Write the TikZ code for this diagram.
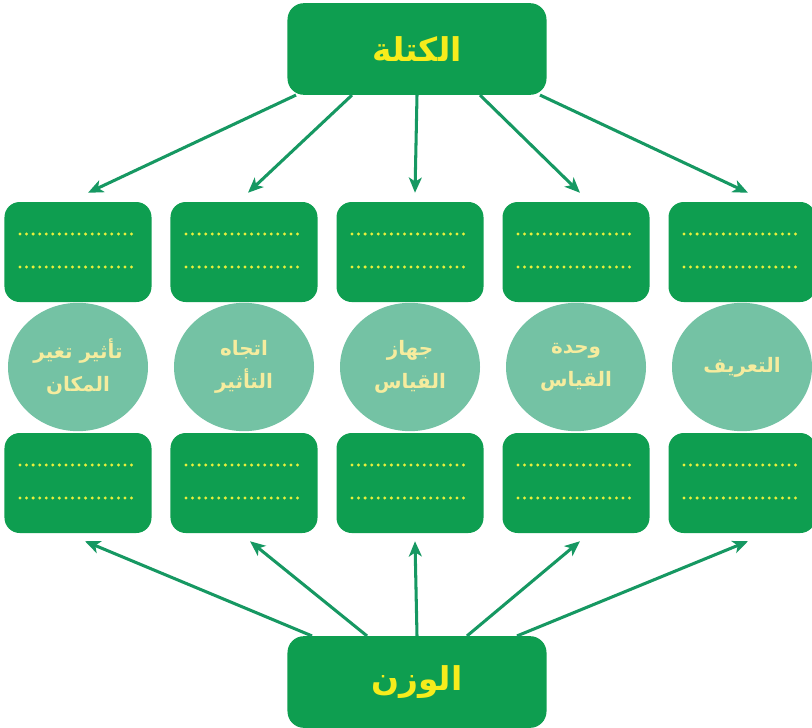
\documentclass[tikz,border=0pt]{standalone}
\usepackage{fontspec}
\newfontfamily\arabicfont[Script=Arabic]{DejaVu Sans}
\TeXXeTstate=1
\usetikzlibrary{arrows.meta, calc, shapes.geometric}
\definecolor{boxgreen}{RGB}{14,158,80}
\definecolor{circgreen}{RGB}{116,194,164}
\definecolor{arrowgreen}{RGB}{22,152,98}
\definecolor{titleyellow}{RGB}{246,236,28}
\definecolor{labelyellow}{RGB}{246,236,158}
\definecolor{dotyellow}{RGB}{232,240,60}

\begin{document}
\begin{tikzpicture}[x=0.03cm, y=-0.03cm,
  titlebox/.style={fill=boxgreen, rounded corners=14pt, minimum width=7.77cm, minimum height=2.75cm,
    text=titleyellow, font=\arabicfont\bfseries\fontsize{28}{32}\selectfont},
  slotbox/.style={fill=boxgreen, rounded corners=13pt, minimum width=4.41cm, minimum height=3cm},
  roundlabel/.style={ellipse, fill=circgreen, minimum width=4.2cm, minimum height=3.85cm,
    align=center, text=labelyellow, font=\arabicfont\bfseries\fontsize{17}{28}\selectfont},
  dotline/.style={dotyellow, line width=2.8pt, line cap=round, dash pattern=on 0pt off 5.6pt},
  link/.style={arrowgreen, line width=2.6pt, -{Stealth[length=13pt, width=11pt, inset=3.5pt]}}]
  \useasboundingbox (0,0) rectangle (812,728);

  % Main boxes
  \node[titlebox] (mass) at (417,49) {\beginR الكتلة\endR};
  \node[titlebox] (weight) at (417,682) {\beginR الوزن\endR};

  % Answer boxes with dotted lines
  \foreach \i/\x in {1/78,2/244,3/410,4/576,5/742} {
    \node[slotbox] (t\i) at (\x,252) {};
    \node[slotbox] (b\i) at (\x,483) {};
    \foreach \n in {t,b} {
      \draw[dotline] ($(\n\i.center)+(-58,-18)$) -- ($(\n\i.center)+(58,-18)$);
      \draw[dotline] ($(\n\i.center)+(-58,15)$) -- ($(\n\i.center)+(58,15)$);
    }
  }

  % Middle circles
  \node[roundlabel] (c1) at (78,367) {\beginR تأثير تغير\endR\\\beginR المكان\endR};
  \node[roundlabel] (c2) at (244,367) {\beginR اتجاه\endR\\\beginR التأثير\endR};
  \node[roundlabel] (c3) at (410,367) {\beginR جهاز\endR\\\beginR القياس\endR};
  \node[roundlabel] (c4) at (576,367) {\beginR وحدة\endR\\\beginR القياس\endR};
  \node[roundlabel] (c5) at (742,367) {\beginR التعريف\endR};

  % Arrows
  \foreach \i/\s/\e in {1/-121/10, 2/-65/4, 3/0/5, 4/63/4, 5/123/6}
    \draw[link] ($(mass.south)+(\s,0)$) -- ($(t\i.north)+(\e,-9)$);
  \foreach \i/\s/\e in {1/-105/7, 2/-50/6, 3/0/5, 4/50/4, 5/100/6}
    \draw[link] ($(weight.north)+(\s,0)$) -- ($(b\i.south)+(\e,8)$);
\end{tikzpicture}
\end{document}
